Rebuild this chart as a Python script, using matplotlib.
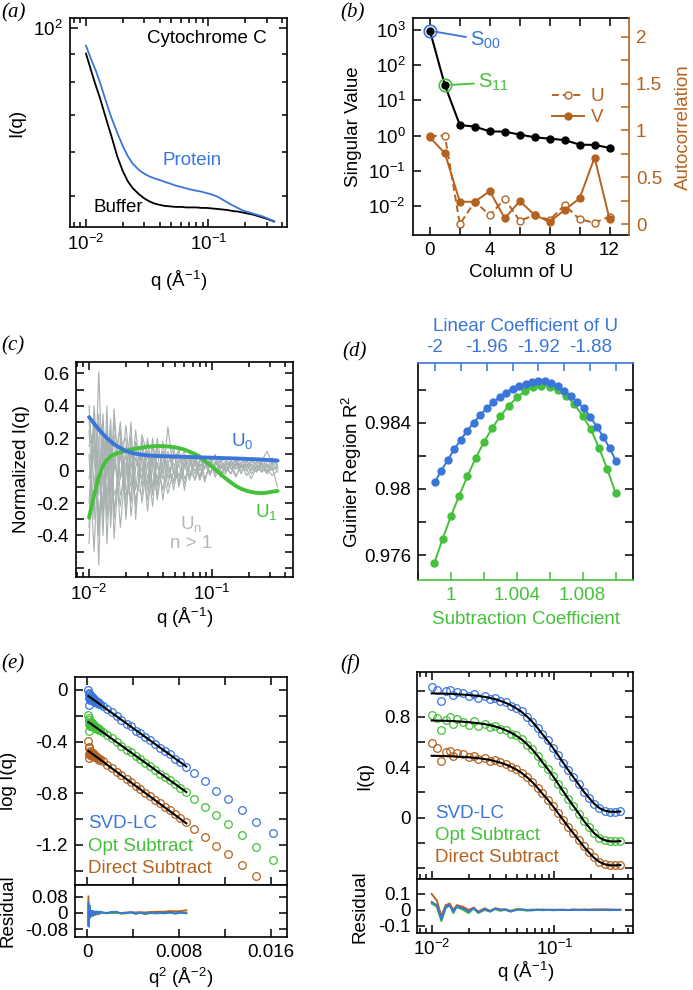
import numpy as np
import matplotlib
matplotlib.use('Agg')
import matplotlib.pyplot as plt
from matplotlib.ticker import (FixedLocator, MultipleLocator, FuncFormatter,
                               NullFormatter, NullLocator)

plt.rcParams.update({
    'font.family': ['Liberation Sans', 'DejaVu Sans'],
    'mathtext.fontset': 'custom',
    'mathtext.rm': 'Liberation Sans',
    'mathtext.it': 'Liberation Sans:italic',
    'mathtext.bf': 'Liberation Sans:bold',
    'mathtext.default': 'regular',
    'axes.unicode_minus': False,
    'font.size': 13.5,
    'axes.linewidth': 1.2,
})

BLUE = '#3A76DA'
GREEN = '#45C03A'
ORANGE = '#B5621E'
GRAY = '#A8B0B0'

# ---------------- data ----------------
q = [0.010, 0.011, 0.012, 0.013, 0.014, 0.015, 0.016, 0.018, 0.020, 0.022,
     0.024, 0.027, 0.030, 0.033, 0.036, 0.040, 0.044, 0.049, 0.054, 0.060,
     0.066, 0.073, 0.080, 0.088, 0.097, 0.107, 0.118, 0.130, 0.143, 0.158,
     0.174, 0.192, 0.211, 0.233, 0.257, 0.283, 0.312, 0.345]

# (a)
protein = [93, 88, 84, 80, 76, 72.5, 69.5, 65, 61.5, 59,
           57.3, 55.8, 54.9, 54.3, 53.9, 53.5, 53.1, 52.7, 52.3, 52.0,
           51.7, 51.4, 51.2, 51.0, 50.7, 50.4, 50.0, 49.4, 48.8, 48.2,
           47.7, 47.2, 46.9, 46.6, 46.3, 46.0, 45.6, 45.2]
buffer_ = [90, 84, 79, 75, 71, 67.5, 64.5, 59, 55.5, 53.2,
           51.8, 50.5, 49.6, 49.0, 48.6, 48.3, 48.1, 48.0, 47.9, 47.9,
           47.8, 47.8, 47.8, 47.7, 47.7, 47.6, 47.5, 47.4, 47.3, 47.1,
           47.0, 46.8, 46.6, 46.4, 46.1, 45.8, 45.5, 45.1]

# (b)
columns = [0, 1, 2, 3, 4, 5, 6, 7, 8, 9, 10, 11, 12]
singular_values = [950, 27, 2.0, 1.8, 1.32, 1.3, 1.07, 0.9, 0.82, 0.75, 0.555, 0.545, 0.45]
autocorr_U = [0.94, 0.943, 0.0, 0.238, 0.096, 0.267, 0.035, 0.096, 0.043, 0.203, 0.05, 0.014, 0.078]
autocorr_V = [0.925, 0.755, 0.238, 0.238, 0.352, 0.06, 0.245, 0.096, 0.025, 0.15, 0.274, 0.71, 0.053]

# (c)
U0 = [0.330, 0.290, 0.255, 0.225, 0.200, 0.180, 0.163, 0.139, 0.122, 0.111,
      0.104, 0.098, 0.094, 0.092, 0.090, 0.089, 0.088, 0.087, 0.086, 0.085,
      0.084, 0.083, 0.082, 0.081, 0.080, 0.079, 0.078, 0.077, 0.076, 0.075,
      0.074, 0.072, 0.071, 0.070, 0.068, 0.066, 0.064, 0.062]
U1 = [-0.290, -0.150, -0.040, 0.030, 0.066, 0.088, 0.100, 0.113, 0.123, 0.130,
      0.136, 0.142, 0.147, 0.150, 0.152, 0.151, 0.149, 0.145, 0.139, 0.130,
      0.117, 0.103, 0.085, 0.060, 0.035, 0.008, -0.020, -0.048, -0.072, -0.095,
      -0.112, -0.124, -0.132, -0.137, -0.139, -0.136, -0.130, -0.125]
Un_higher = [
    [0.25, -0.30, 0.61, -0.10, 0.20, -0.15, 0.10, -0.22, 0.15, 0.05,
     -0.12, 0.20, -0.05, 0.08, -0.10, 0.12, 0.02, -0.06, 0.10, 0.03,
     -0.04, 0.08, 0.02, 0.05, -0.03, 0.06, 0.01, 0.04, -0.02, 0.05,
     0.03, 0.00, 0.04, 0.02, -0.01, 0.03, 0.01, 0.02],
    [-0.45, 0.30, -0.58, 0.25, -0.30, 0.18, -0.25, 0.10, -0.18, 0.22,
     -0.08, -0.15, 0.12, -0.10, 0.05, -0.12, 0.10, 0.04, -0.08, 0.06,
     0.10, -0.02, 0.07, 0.01, 0.06, -0.04, 0.03, 0.00, 0.05, -0.03,
     0.02, 0.04, -0.02, 0.03, 0.00, 0.01, -0.03, 0.00],
    [0.40, -0.10, 0.15, -0.40, 0.28, -0.20, 0.30, -0.05, 0.10, -0.20,
     0.18, 0.05, -0.18, 0.15, 0.02, -0.05, 0.27, -0.02, 0.04, -0.08,
     0.05, 0.09, -0.05, 0.08, 0.02, 0.04, 0.07, -0.01, 0.03, 0.06,
     -0.02, 0.05, 0.08, 0.00, 0.06, 0.12, 0.04, 0.06],
    [-0.20, 0.35, -0.35, 0.10, -0.05, 0.32, -0.30, 0.20, -0.25, 0.08,
     0.15, -0.20, 0.05, -0.22, 0.12, 0.08, -0.10, 0.12, -0.04, 0.09,
     -0.06, 0.04, 0.10, -0.05, 0.04, 0.08, -0.03, 0.05, 0.02, -0.04,
     0.04, 0.01, -0.05, 0.03, 0.02, -0.02, 0.02, -0.10],
    [0.10, -0.50, 0.20, 0.30, -0.45, 0.05, 0.22, -0.35, 0.05, -0.10,
     0.25, -0.10, 0.18, 0.00, -0.15, 0.18, -0.05, 0.08, 0.12, -0.05,
     0.02, 0.10, -0.04, 0.06, 0.09, 0.00, 0.05, 0.08, 0.01, 0.04,
     0.07, 0.02, 0.05, 0.07, 0.03, 0.05, 0.08, 0.03],
    [-0.05, 0.15, -0.25, -0.20, 0.40, -0.35, 0.05, 0.25, -0.30, 0.15,
     -0.22, 0.10, -0.12, 0.20, -0.08, 0.02, 0.06, -0.12, 0.06, 0.12,
     0.00, -0.05, 0.06, 0.09, -0.02, 0.05, 0.02, 0.06, 0.04, 0.01,
     0.05, 0.06, 0.02, -0.01, 0.05, 0.02, 0.04, -0.01],
    [0.30, 0.05, -0.15, 0.35, -0.20, 0.28, -0.42, 0.15, 0.20, -0.28,
     0.02, 0.15, -0.25, 0.05, 0.15, -0.18, 0.04, 0.15, -0.10, 0.02,
     0.08, 0.05, -0.06, 0.03, 0.07, 0.02, -0.04, 0.03, 0.06, 0.02,
     0.00, 0.03, 0.06, 0.04, 0.01, 0.04, 0.00, 0.03],
    [-0.30, -0.15, 0.35, -0.30, 0.05, -0.10, 0.38, -0.15, -0.05, 0.30,
     -0.30, 0.22, 0.10, -0.15, 0.20, -0.02, -0.14, 0.00, 0.14, -0.12,
     0.06, 0.00, 0.04, -0.07, 0.05, 0.10, 0.00, -0.02, 0.06, 0.03,
     0.05, -0.03, 0.01, 0.05, 0.04, -0.01, 0.03, 0.01],
    [0.15, 0.25, -0.40, 0.10, 0.15, -0.28, 0.00, 0.30, -0.12, -0.15,
     0.08, -0.05, 0.20, -0.10, -0.05, 0.10, 0.00, -0.08, 0.05, 0.08,
     -0.03, 0.06, 0.00, 0.03, 0.06, -0.02, 0.04, 0.01, 0.03, 0.07,
     0.02, 0.04, 0.00, 0.06, 0.03, 0.00, 0.05, 0.02],
    [-0.35, 0.40, 0.00, -0.25, 0.22, 0.10, -0.15, -0.05, 0.28, -0.05,
     -0.18, 0.02, -0.08, 0.10, -0.18, 0.05, 0.12, -0.02, -0.06, 0.04,
     0.07, -0.06, 0.03, 0.07, -0.01, 0.03, 0.06, 0.02, -0.02, 0.04,
     0.02, 0.06, 0.03, 0.00, 0.07, 0.03, 0.06, 0.04],
]

# (d)
sub_coef = [0.9990, 0.9995, 1.0000, 1.0005, 1.0010, 1.0015, 1.0020, 1.0025, 1.0030, 1.0035,
            1.0040, 1.0045, 1.0050, 1.0055, 1.0060, 1.0065, 1.0070, 1.0075, 1.0080, 1.0085,
            1.0090, 1.0095, 1.0100]
sub_r2 = [0.97556, 0.97700, 0.97836, 0.97960, 0.98076, 0.98186, 0.98282, 0.98366, 0.98440, 0.98500,
          0.98552, 0.98590, 0.98616, 0.98624, 0.98616, 0.98596, 0.98562, 0.98512, 0.98440, 0.98360,
          0.98246, 0.98120, 0.97976]
lin_coef = [-2.000, -1.995, -1.990, -1.985, -1.980, -1.975, -1.970, -1.965, -1.960, -1.955,
            -1.950, -1.945, -1.940, -1.935, -1.930, -1.925, -1.920, -1.915, -1.910, -1.905,
            -1.900, -1.895, -1.890, -1.885, -1.880, -1.875, -1.870, -1.865, -1.860]
lin_r2 = [0.98042, 0.98110, 0.98176, 0.98240, 0.98296, 0.98352, 0.98400, 0.98446, 0.98486, 0.98522,
          0.98556, 0.98582, 0.98606, 0.98620, 0.98632, 0.98646, 0.98650, 0.98650, 0.98642, 0.98620,
          0.98592, 0.98560, 0.98526, 0.98486, 0.98436, 0.98376, 0.98316, 0.98246, 0.98166]

# (e)
e_q2 = [0.00010, 0.00012, 0.00014, 0.00016, 0.00018, 0.00020, 0.00023, 0.00026, 0.00029, 0.00033,
        0.00037, 0.00041, 0.00046, 0.00051, 0.00057, 0.00063, 0.00070, 0.00078, 0.00086, 0.00095,
        0.00105, 0.00115, 0.00134, 0.00170, 0.00213, 0.00257, 0.00295, 0.00345, 0.00380, 0.00426,
        0.00461, 0.00505, 0.00543, 0.00593, 0.00637, 0.00675, 0.00718, 0.00768, 0.00812, 0.00864,
        0.00930, 0.01025, 0.01122, 0.01226, 0.01347, 0.01468, 0.01620]
e_svd = [0.000, -0.115, -0.030, -0.065, -0.020, -0.075, -0.040, -0.060, -0.048, -0.075,
         -0.055, -0.080, -0.062, -0.085, -0.070, -0.078, -0.092, -0.083, -0.100, -0.095,
         -0.112, -0.108, -0.125, -0.150, -0.172, -0.200, -0.232, -0.262, -0.280, -0.318,
         -0.333, -0.368, -0.386, -0.422, -0.446, -0.474, -0.497, -0.535, -0.557, -0.595,
         -0.640, -0.705, -0.780, -0.844, -0.930, -1.020, -1.110]
e_opt = [-0.195, -0.315, -0.230, -0.265, -0.215, -0.280, -0.245, -0.262, -0.250, -0.278,
         -0.258, -0.282, -0.265, -0.288, -0.272, -0.282, -0.295, -0.286, -0.302, -0.298,
         -0.312, -0.310, -0.327, -0.352, -0.376, -0.405, -0.432, -0.462, -0.482, -0.515,
         -0.535, -0.568, -0.588, -0.620, -0.648, -0.672, -0.697, -0.732, -0.757, -0.790,
         -0.842, -0.905, -0.970, -1.040, -1.125, -1.215, -1.315]
e_direct = [-0.392, -0.530, -0.450, -0.495, -0.440, -0.505, -0.470, -0.490, -0.478, -0.505,
            -0.485, -0.508, -0.492, -0.512, -0.500, -0.510, -0.522, -0.515, -0.530, -0.527,
            -0.540, -0.538, -0.552, -0.578, -0.606, -0.635, -0.660, -0.690, -0.712, -0.743,
            -0.765, -0.795, -0.818, -0.850, -0.878, -0.903, -0.928, -0.962, -0.990, -1.020,
            -1.076, -1.140, -1.205, -1.270, -1.355, -1.440]
guinier_intercept = [-0.041, -0.242, -0.466]
guinier_slope = [-63.9, -63.5, -65.6]
guinier_npts = 40

# (f)
f_fit_svd = [0.985, 0.984, 0.983, 0.982, 0.981, 0.980, 0.978, 0.975, 0.972, 0.968,
             0.964, 0.957, 0.948, 0.938, 0.927, 0.910, 0.892, 0.866, 0.838, 0.800,
             0.760, 0.710, 0.660, 0.610, 0.555, 0.495, 0.435, 0.375, 0.320, 0.262,
             0.205, 0.155, 0.110, 0.075, 0.055, 0.046, 0.045, 0.048]
f_fit_opt = [0.770, 0.769, 0.768, 0.767, 0.766, 0.765, 0.763, 0.760, 0.756, 0.752,
             0.748, 0.741, 0.732, 0.722, 0.711, 0.693, 0.675, 0.648, 0.620, 0.581,
             0.540, 0.489, 0.438, 0.387, 0.331, 0.269, 0.208, 0.147, 0.091, 0.032,
             -0.027, -0.078, -0.124, -0.159, -0.180, -0.189, -0.190, -0.187]
f_fit_direct = [0.490, 0.489, 0.488, 0.487, 0.486, 0.485, 0.483, 0.481, 0.478, 0.474,
                0.471, 0.464, 0.456, 0.446, 0.436, 0.421, 0.404, 0.380, 0.354, 0.319,
                0.282, 0.235, 0.189, 0.143, 0.092, 0.036, -0.019, -0.075, -0.125, -0.179,
                -0.232, -0.278, -0.320, -0.352, -0.371, -0.379, -0.380, -0.377]
f_res_svd = [0.05, 0.03, -0.06, 0.02, 0.03, -0.01, 0.02, 0.01, -0.01, 0.01,
             -0.015, 0.005, -0.01, 0.01, 0.00, 0.005, -0.01, 0.00, 0.005, 0.00,
             -0.003, 0.002, 0.000, 0.002, -0.002, 0.001, 0.000, -0.001, 0.001, 0.000,
             0.001, -0.001, 0.000, 0.001, 0.000, -0.001, 0.000, 0.000]
f_res_opt = [0.04, 0.02, -0.07, 0.01, 0.03, -0.02, 0.02, 0.00, -0.02, 0.01,
             -0.02, 0.00, -0.01, 0.005, -0.005, 0.00, -0.01, 0.005, 0.00, -0.005,
             0.00, 0.002, -0.002, 0.001, 0.000, -0.001, 0.001, 0.000, 0.001, -0.001,
             0.000, 0.001, -0.001, 0.000, 0.001, 0.000, 0.001, 0.000]
f_res_direct = [0.10, 0.06, -0.04, 0.03, 0.04, 0.00, 0.03, 0.02, 0.00, 0.015,
                -0.01, 0.01, -0.005, 0.01, 0.005, 0.00, -0.005, 0.005, 0.00, 0.00,
                0.002, 0.000, 0.003, 0.000, 0.002, 0.001, 0.002, 0.000, 0.003, 0.002,
                0.003, 0.002, 0.004, 0.003, 0.004, 0.003, 0.002, 0.002]

# ---------------- figure ----------------
W, H = 693, 990
fig = plt.figure(figsize=(W / 100, H / 100), dpi=100)

FS = 13.5     # tick labels / axis labels
TXT = 13.5    # in-plot text


def add_ax(l, r, t, b):
    return fig.add_axes([l / W, 1 - b / H, (r - l) / W, (b - t) / H])


def logfmt(v, p):
    return r'10$^{%d}$' % int(round(np.log10(v)))


gfmt = FuncFormatter(lambda v, p: '%g' % round(v, 6))
q_minor = [0.008, 0.009] + [k * 0.01 for k in range(2, 10)] + [0.2, 0.3, 0.4]


def style(ax, minor_len=6):
    ax.tick_params(which='both', direction='in', top=True, right=True,
                   width=1.1, labelsize=FS, pad=5)
    ax.tick_params(which='major', length=6)
    ax.tick_params(which='minor', length=minor_len)


def logq_axis(ax, lo, hi):
    ax.set_xscale('log')
    ax.set_xlim(lo, hi)
    ax.xaxis.set_major_locator(FixedLocator([0.01, 0.1]))
    ax.xaxis.set_minor_locator(FixedLocator(q_minor))
    ax.xaxis.set_major_formatter(FuncFormatter(logfmt))
    ax.xaxis.set_minor_formatter(NullFormatter())


def center_labels(ax, xl=None, yl=None):
    if xl is not None:
        ax.xaxis.set_label_coords(*xl)
        ax.xaxis.label.set_va('center')
    if yl is not None:
        ax.yaxis.set_label_coords(*yl)
        ax.yaxis.label.set_va('center')


# ---- (a)
axa = add_ax(70, 287, 18, 227)
axa.plot(q, buffer_, color='black', lw=1.3)
axa.plot(q, protein, color=BLUE, lw=1.3)
axa.set_yscale('log')
axa.set_ylim(44.1, 104.2)
axa.yaxis.set_major_locator(FixedLocator([100]))
axa.yaxis.set_minor_locator(FixedLocator([50, 60, 70, 80, 90]))
axa.yaxis.set_major_formatter(FuncFormatter(logfmt))
axa.yaxis.set_minor_formatter(NullFormatter())
logq_axis(axa, 0.0074, 0.44)
style(axa, 3.5)
axa.set_xlabel('q (Å$^{-1}$)', fontsize=FS)
axa.set_ylabel('I(q)', fontsize=FS)
center_labels(axa, (0.5, -0.258), (-0.244, 0.5))
axa.text(0.908, 0.9, 'Cytochrome C', transform=axa.transAxes, ha='right', va='center', fontsize=TXT)
axa.text(0.424, 0.316, 'Protein', transform=axa.transAxes, ha='left', va='center', fontsize=TXT, color=BLUE)
axa.text(0.106, 0.091, 'Buffer', transform=axa.transAxes, ha='left', va='center', fontsize=TXT)

# ---- (b)
axb = add_ax(412.7, 629, 18.3, 235)
axb.plot(columns, singular_values, color='black', lw=1.5, marker='o', ms=5, zorder=3)
axb.set_yscale('log')
axb.set_ylim(10 ** -2.82, 10 ** 3.33)
axb.yaxis.set_major_locator(FixedLocator([1e-2, 1e-1, 1, 10, 100, 1000]))
axb.yaxis.set_minor_locator(NullLocator())
axb.yaxis.set_major_formatter(FuncFormatter(logfmt))
axb.set_xlim(-1.15, 13.3)
axb.xaxis.set_major_locator(FixedLocator([0, 4, 8, 12]))
axb.xaxis.set_minor_locator(MultipleLocator(2))
axb.xaxis.set_major_formatter(gfmt)
style(axb, 6)
axb.tick_params(which='both', right=False)
axb.spines['right'].set_visible(False)
axb.plot([columns[0]], [singular_values[0]], 'o', mfc='none', mec=BLUE, ms=9, mew=1.2, zorder=4)
axb.plot([columns[1]], [singular_values[1]], 'o', mfc='none', mec=GREEN, ms=9, mew=1.2, zorder=4)
axb.annotate('S$_{00}$', xy=(columns[0], singular_values[0]), xytext=(29, -7),
             textcoords='offset points', ha='left', va='center', fontsize=14.5, color=BLUE,
             arrowprops=dict(arrowstyle='-', color=BLUE, lw=1.3, shrinkA=1, shrinkB=4.5))
axb.annotate('S$_{11}$', xy=(columns[1], singular_values[1]), xytext=(24, 2),
             textcoords='offset points', ha='left', va='center', fontsize=14.5, color=GREEN,
             arrowprops=dict(arrowstyle='-', color=GREEN, lw=1.3, shrinkA=1, shrinkB=4.5))
axb.set_xlabel('Column of U', fontsize=FS)
axb.set_ylabel('Singular Value', fontsize=FS)
center_labels(axb, (0.5, -0.175), (-0.276, 0.5))

axb2 = axb.twinx()
lu, = axb2.plot(columns, autocorr_U, color=ORANGE, lw=1.4, ls=(0, (3.5, 2)), marker='o',
                ms=5, mfc='white', mew=1.0, label='U')
lv, = axb2.plot(columns, autocorr_V, color=ORANGE, lw=1.4, marker='o', ms=5, label='V')
axb2.set_ylim(-0.117, 2.196)
axb2.yaxis.set_major_locator(FixedLocator([0, 0.5, 1, 1.5, 2]))
axb2.yaxis.set_minor_locator(MultipleLocator(0.25))
axb2.yaxis.set_major_formatter(gfmt)
axb2.tick_params(which='both', direction='in', width=1.1, color=ORANGE, labelcolor=ORANGE,
                 labelsize=FS, pad=5)
axb2.tick_params(which='major', length=6)
axb2.tick_params(which='minor', length=6)
for s in ['left', 'top', 'bottom']:
    axb2.spines[s].set_visible(False)
axb2.spines['right'].set_color(ORANGE)
axb2.set_ylabel('Autocorrelation', color=ORANGE, fontsize=FS, rotation=90)
axb2.yaxis.set_label_coords(1.25, 0.5)
axb2.yaxis.label.set_va('center')
leg = axb2.legend(handles=[lu, lv], loc='upper right', bbox_to_anchor=(0.93, 0.72),
                  frameon=False, fontsize=TXT, handlelength=1.7, handletextpad=0.35,
                  labelspacing=0.2, borderpad=0, numpoints=1)
for t in leg.get_texts():
    t.set_color(ORANGE)

# ---- (c)
axc = add_ax(76, 293, 362, 577)
for series in Un_higher:
    axc.plot(q, series, color=GRAY, lw=0.8)
axc.plot(q, U1, color=GREEN, lw=2.8, solid_capstyle='round')
axc.plot(q, U0, color=BLUE, lw=2.8, solid_capstyle='round')
axc.set_ylim(-0.656, 0.67)
axc.yaxis.set_major_locator(FixedLocator([-0.4, -0.2, 0, 0.2, 0.4, 0.6]))
axc.yaxis.set_minor_locator(MultipleLocator(0.1))
axc.yaxis.set_major_formatter(gfmt)
logq_axis(axc, 0.00783, 0.461)
style(axc, 6)
axc.tick_params(axis='x', which='minor', length=3.5)
axc.set_xlabel('q (Å$^{-1}$)', fontsize=FS)
axc.set_ylabel('Normalized I(q)', fontsize=FS)
center_labels(axc, (0.5, -0.19), (-0.251, 0.5))
axc.text(0.714, 0.633, 'U$_0$', transform=axc.transAxes, ha='left', va='center', fontsize=TXT, color=BLUE)
axc.text(0.825, 0.300, 'U$_1$', transform=axc.transAxes, ha='left', va='center', fontsize=TXT, color=GREEN)
axc.text(0.53, 0.245, 'U$_n$', transform=axc.transAxes, ha='center', va='center', fontsize=TXT, color='#B0B8B8')
axc.text(0.53, 0.158, 'n > 1', transform=axc.transAxes, ha='center', va='center', fontsize=TXT, color='#B0B8B8')

# ---- (d)
axd = add_ax(418, 633, 363, 580)
axd.plot(sub_coef, sub_r2, color=GREEN, lw=1.4, marker='o', ms=5)
axd.set_xlim(0.998, 1.01106)
axd.set_ylim(0.97451, 0.9876)
axd.xaxis.set_major_locator(FixedLocator([1.0, 1.004, 1.008]))
axd.xaxis.set_minor_locator(MultipleLocator(0.002))
axd.xaxis.set_major_formatter(gfmt)
axd.yaxis.set_major_locator(FixedLocator([0.976, 0.98, 0.984]))
axd.yaxis.set_minor_locator(MultipleLocator(0.002))
axd.yaxis.set_major_formatter(gfmt)
axd.tick_params(which='both', direction='in', right=True, top=False, width=1.1,
                labelsize=FS, pad=5, length=6)
axd.tick_params(axis='x', which='both', color=GREEN, labelcolor=GREEN)
axd.spines['bottom'].set_color(GREEN)
axd.spines['top'].set_visible(False)
axd.set_xlabel('Subtraction Coefficient', color=GREEN, fontsize=FS)
axd.set_ylabel('Guinier Region R$^{2}$', fontsize=FS)
center_labels(axd, (0.5, -0.184), (-0.307, 0.5))

axd2 = axd.twiny()
axd2.plot(lin_coef, lin_r2, color=BLUE, lw=1.4, marker='o', ms=5)
axd2.set_xlim(-2.013, -1.847)
axd2.set_ylim(0.97451, 0.9876)
axd2.xaxis.set_major_locator(FixedLocator([-2.0, -1.96, -1.92, -1.88]))
axd2.xaxis.set_minor_locator(MultipleLocator(0.02))
axd2.xaxis.set_major_formatter(gfmt)
axd2.tick_params(which='both', direction='in', width=1.1, length=6, color=BLUE,
                 labelcolor=BLUE, labelsize=FS, pad=5)
for s in ['left', 'right', 'bottom']:
    axd2.spines[s].set_visible(False)
axd2.spines['top'].set_color(BLUE)
axd2.set_xlabel('Linear Coefficient of U', color=BLUE, fontsize=FS)
axd2.xaxis.set_label_coords(0.5, 1.166)
axd2.xaxis.label.set_va('center')

# ---- (e)
axe = add_ax(75, 287, 677, 885)
axe_r = add_ax(75, 287, 885, 937)
e_sets = [(e_svd, BLUE), (e_opt, GREEN), (e_direct, ORANGE)]
for (vals, col) in e_sets:
    axe.plot(e_q2[:len(vals)], vals, ls='none', marker='o', ms=5.5, mfc='none', mec=col, mew=0.9)
e_q2_fit = np.array(e_q2[:guinier_npts])
for i, (vals, col) in enumerate(e_sets):
    fit = guinier_intercept[i] + guinier_slope[i] * e_q2_fit
    axe.plot(e_q2_fit, fit, color='black', lw=1.5)
for i, (vals, col) in reversed(list(enumerate(e_sets))):
    fit = guinier_intercept[i] + guinier_slope[i] * e_q2_fit
    resid = np.array(vals[:guinier_npts]) - fit
    axe_r.plot(e_q2_fit, resid, color=col, lw=1.4)
for ax in (axe, axe_r):
    ax.set_xlim(-0.00107, 0.01742)
    ax.xaxis.set_major_locator(FixedLocator([0, 0.008, 0.016]))
    ax.xaxis.set_minor_locator(MultipleLocator(0.004))
    ax.xaxis.set_major_formatter(gfmt)
    style(ax, 6)
axe.set_ylim(-1.51, 0.1)
axe.yaxis.set_major_locator(FixedLocator([-1.2, -0.8, -0.4, 0]))
axe.yaxis.set_minor_locator(MultipleLocator(0.2))
axe.yaxis.set_major_formatter(gfmt)
axe.tick_params(labelbottom=False)
axe_r.set_ylim(-0.118, 0.137)
axe_r.yaxis.set_major_locator(FixedLocator([-0.08, 0, 0.08]))
axe_r.yaxis.set_minor_locator(NullLocator())
axe_r.yaxis.set_major_formatter(gfmt)
axe_r.tick_params(which='both', top=False)
axe.set_ylabel('log I(q)', fontsize=FS)
axe_r.set_ylabel('Residual', fontsize=FS)
axe_r.set_xlabel('q$^{2}$ (Å$^{-2}$)', fontsize=FS)
center_labels(axe, None, (-0.314, 0.5))
center_labels(axe_r, (0.5, -0.78), (-0.314, 0.5))
axe.text(0.061, 0.298, 'SVD-LC', transform=axe.transAxes, ha='left', va='center', fontsize=TXT, color=BLUE)
axe.text(0.061, 0.183, 'Opt Subtract', transform=axe.transAxes, ha='left', va='center', fontsize=TXT, color=GREEN)
axe.text(0.061, 0.077, 'Direct Subtract', transform=axe.transAxes, ha='left', va='center', fontsize=TXT, color=ORANGE)

# ---- (f)
axf = add_ax(417.3, 633.3, 672.3, 879.3)
axf_r = add_ax(417.3, 633.3, 879.3, 933.3)
f_sets = [(f_fit_svd, f_res_svd, BLUE), (f_fit_opt, f_res_opt, GREEN),
          (f_fit_direct, f_res_direct, ORANGE)]
for fit, res, col in f_sets:
    data = np.array(fit) + np.array(res)
    axf.plot(q, data, ls='none', marker='o', ms=5.5, mfc='none', mec=col, mew=0.9)
for fit, res, col in f_sets:
    axf.plot(q, fit, color='black', lw=1.5)
for fit, res, col in reversed(f_sets):
    axf_r.plot(q, res, color=col, lw=1.4)
for ax in (axf, axf_r):
    logq_axis(ax, 0.00763, 0.44)
    style(ax, 6)
    ax.tick_params(axis='x', which='minor', length=3.5)
axf.set_ylim(-0.49, 1.152)
axf.yaxis.set_major_locator(FixedLocator([0, 0.4, 0.8]))
axf.yaxis.set_minor_locator(MultipleLocator(0.2))
axf.yaxis.set_major_formatter(gfmt)
axf.tick_params(labelbottom=False)
axf_r.set_ylim(-0.146, 0.192)
axf_r.yaxis.set_major_locator(FixedLocator([-0.1, 0, 0.1]))
axf_r.yaxis.set_minor_locator(NullLocator())
axf_r.yaxis.set_major_formatter(gfmt)
axf_r.tick_params(which='both', top=False)
axf_r.tick_params(axis='x', pad=4)
axf.set_ylabel('I(q)', fontsize=FS)
axf_r.set_ylabel('Residual', fontsize=FS)
axf_r.set_xlabel('q (Å$^{-1}$)', fontsize=FS)
center_labels(axf, None, (-0.242, 0.5))
center_labels(axf_r, (0.5, -0.71), (-0.266, 0.5))
axf.text(0.082, 0.32, 'SVD-LC', transform=axf.transAxes, ha='left', va='center', fontsize=TXT, color=BLUE)
axf.text(0.082, 0.214, 'Opt Subtract', transform=axf.transAxes, ha='left', va='center', fontsize=TXT, color=GREEN)
axf.text(0.082, 0.103, 'Direct Subtract', transform=axf.transAxes, ha='left', va='center', fontsize=TXT, color=ORANGE)

# ---- panel labels
for lab, x, y in [('(a)', 1, 13), ('(b)', 340, 13), ('(c)', 1, 346),
                  ('(d)', 342, 352), ('(e)', 1, 664), ('(f)', 340, 664)]:
    fig.text(x / W, 1 - y / H, lab, ha='left', va='center', fontsize=15,
             family='Liberation Serif', style='italic')

fig.savefig('out.png', dpi=100)
